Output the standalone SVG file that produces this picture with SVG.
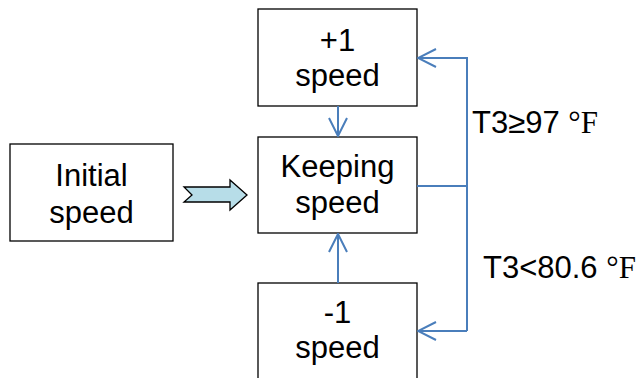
<svg xmlns="http://www.w3.org/2000/svg" width="642" height="378" viewBox="0 0 642 378">
<defs>
<style>
.box{fill:#fff;stroke:#000;stroke-width:1.3}
.t{font-family:"Liberation Sans",Arial,sans-serif;font-size:31px;fill:#000;text-anchor:middle}
.lbl{font-family:"Liberation Sans",Arial,sans-serif;font-size:31px;fill:#000}
.ser{font-family:"Liberation Serif","Times New Roman",serif}
.c{fill:none;stroke:#4a7ebb;stroke-width:2}
</style>
<marker id="v" viewBox="0 0 20 20" refX="19" refY="10" markerWidth="20" markerHeight="20" markerUnits="userSpaceOnUse" orient="auto">
<path d="M1,1 L19,10 L1,19" fill="none" stroke="#4a7ebb" stroke-width="2"/>
</marker>
</defs>
<rect width="642" height="378" fill="#fff"/>
<g id="initial">
<rect class="box" x="10" y="144" width="163" height="97"/>
<text class="t" x="91.5" y="186">Initial</text>
<text class="t" x="91.5" y="223">speed</text>
</g>
<g id="plus1">
<rect class="box" x="258" y="9" width="159" height="97"/>
<text class="t" x="337.5" y="51">+1</text>
<text class="t" x="337.5" y="86">speed</text>
</g>
<g id="keeping">
<rect class="box" x="258" y="137" width="159" height="96"/>
<text class="t" x="337.5" y="177">Keeping</text>
<text class="t" x="337.5" y="213">speed</text>
</g>
<g id="minus1">
<rect class="box" x="258" y="283" width="159" height="100"/>
<text class="t" x="337.5" y="323">-1</text>
<text class="t" x="337.5" y="358">speed</text>
</g>
<g id="connectors">
<path d="M184,187 L230,187 L230,180 L247,195 L230,210 L230,202 L184,202 L192,195 Z" fill="#b7dde8" stroke="#000" stroke-width="1.3"/>
<path class="c" d="M338,106 L338,136" marker-end="url(#v)"/>
<path class="c" d="M338,283 L338,234" marker-end="url(#v)"/>
<path class="c" d="M417,186 L467,186"/>
<path class="c" d="M467,331 L467,58 L418,58" marker-end="url(#v)"/>
<path class="c" d="M467,331 L418,331" marker-end="url(#v)"/>
</g>
<g id="labels">
<text class="lbl" x="472" y="133">T3≥97 <tspan class="ser">°F</tspan></text>
<text class="lbl" x="483" y="278">T3&lt;80.6 <tspan class="ser">°F</tspan></text>
</g>
</svg>
